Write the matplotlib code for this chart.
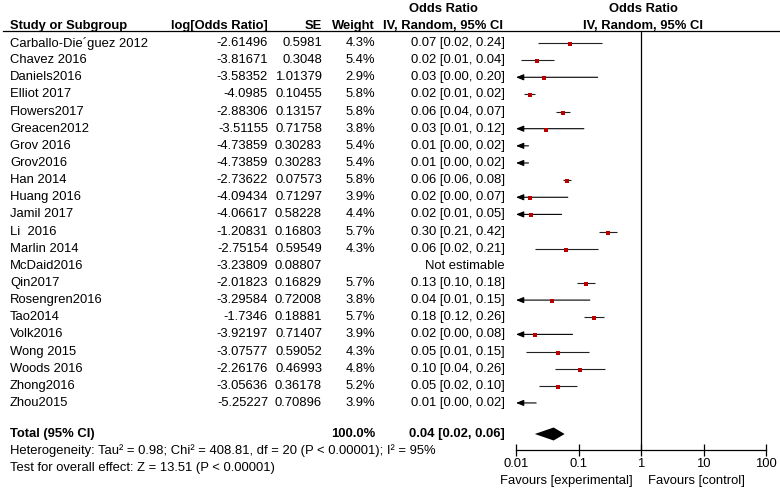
import numpy as np
import matplotlib
matplotlib.use("Agg")
import matplotlib.pyplot as plt

plt.rcParams["font.family"] = ["Liberation Sans", "DejaVu Sans"]
FS = 9.4

studies = ["Carballo-Die\u00b4guez 2012", "Chavez 2016", "Daniels2016", "Elliot 2017",
           "Flowers2017", "Greacen2012", "Grov 2016", "Grov2016", "Han 2014",
           "Huang 2016", "Jamil 2017", "Li  2016", "Marlin 2014", "McDaid2016",
           "Qin2017", "Rosengren2016", "Tao2014", "Volk2016", "Wong 2015",
           "Woods 2016", "Zhong2016", "Zhou2015"]
log_or = ["-2.61496", "-3.81671", "-3.58352", "-4.0985", "-2.88306", "-3.51155",
          "-4.73859", "-4.73859", "-2.73622", "-4.09434", "-4.06617", "-1.20831",
          "-2.75154", "-3.23809", "-2.01823", "-3.29584", "-1.7346", "-3.92197",
          "-3.07577", "-2.26176", "-3.05636", "-5.25227"]
se = ["0.5981", "0.3048", "1.01379", "0.10455", "0.13157", "0.71758", "0.30283",
      "0.30283", "0.07573", "0.71297", "0.58228", "0.16803", "0.59549", "0.08807",
      "0.16829", "0.72008", "0.18881", "0.71407", "0.59052", "0.46993", "0.36178",
      "0.70896"]
weight = [4.3, 5.4, 2.9, 5.8, 5.8, 3.8, 5.4, 5.4, 5.8, 3.9, 4.4, 5.7, 4.3, None,
          5.7, 3.8, 5.7, 3.9, 4.3, 4.8, 5.2, 3.9]
ci_text = ["0.07 [0.02, 0.24]", "0.02 [0.01, 0.04]", "0.03 [0.00, 0.20]",
           "0.02 [0.01, 0.02]", "0.06 [0.04, 0.07]", "0.03 [0.01, 0.12]",
           "0.01 [0.00, 0.02]", "0.01 [0.00, 0.02]", "0.06 [0.06, 0.08]",
           "0.02 [0.00, 0.07]", "0.02 [0.01, 0.05]", "0.30 [0.21, 0.42]",
           "0.06 [0.02, 0.21]", "Not estimable", "0.13 [0.10, 0.18]",
           "0.04 [0.01, 0.15]", "0.18 [0.12, 0.26]", "0.02 [0.00, 0.08]",
           "0.05 [0.01, 0.15]", "0.10 [0.04, 0.26]", "0.05 [0.02, 0.10]",
           "0.01 [0.00, 0.02]"]
total_or, total_lo, total_hi = 0.04, 0.02, 0.06
ticks = [0.01, 0.1, 1, 10, 100]
tick_labels = ["0.01", "0.1", "1", "10", "100"]

W, H = 780, 488
fig = plt.figure(figsize=(W / 100, H / 100), dpi=100)

# text layer in pixel coords
ax_t = fig.add_axes([0, 0, 1, 1])
ax_t.set_xlim(0, W)
ax_t.set_ylim(H, 0)
ax_t.axis("off")

# forest layer
top_y, axis_y = 31, 450
x0, x1 = 516, 766
ax_f = fig.add_axes([x0 / W, 1 - axis_y / H, (x1 - x0) / W, (axis_y - top_y) / H])
ax_f.set_xscale("log")
ax_f.set_xlim(0.01, 100)
ax_f.set_ylim(axis_y, top_y)
ax_f.patch.set_alpha(0)
for s in ["top", "right", "left"]:
    ax_f.spines[s].set_visible(False)
ax_f.spines["bottom"].set_linewidth(0.9)
ax_f.set_yticks([])
ax_f.set_xticks(ticks)
ax_f.set_xticklabels(tick_labels, fontsize=FS)
ax_f.minorticks_off()
ax_f.tick_params(axis="x", direction="inout", length=8, width=0.9, pad=2)
ax_f.axvline(1, color="black", lw=0.9)

row_y = 43 + 17.14 * np.arange(len(studies))
LC = "#222222"

# headers
hy1, hy2 = 9, 26
ax_t.text(10, hy2, "Study or Subgroup", fontsize=FS, weight="bold", va="center")
ax_t.text(268, hy2, "log[Odds Ratio]", fontsize=FS, weight="bold", va="center", ha="right")
ax_t.text(322, hy2, "SE", fontsize=FS, weight="bold", va="center", ha="right")
ax_t.text(375, hy2, "Weight", fontsize=FS, weight="bold", va="center", ha="right")
ax_t.text(443, hy1, "Odds Ratio", fontsize=FS, weight="bold", va="center", ha="center")
ax_t.text(443, hy2, "IV, Random, 95% CI", fontsize=FS, weight="bold", va="center", ha="center")
ax_t.text(643, hy1, "Odds Ratio", fontsize=FS, weight="bold", va="center", ha="center")
ax_t.text(643, hy2, "IV, Random, 95% CI", fontsize=FS, weight="bold", va="center", ha="center")
ax_t.plot([3, W], [top_y, top_y], color="black", lw=0.9)

for i, name in enumerate(studies):
    y = row_y[i]
    ax_t.text(10, y, name, fontsize=FS, va="center")
    ax_t.text(268, y, log_or[i], fontsize=FS, va="center", ha="right")
    ax_t.text(322, y, se[i], fontsize=FS, va="center", ha="right")
    ax_t.text(505, y, ci_text[i], fontsize=FS, va="center", ha="right")
    if weight[i] is None:
        continue
    ax_t.text(375, y, f"{weight[i]:.1f}%", fontsize=FS, va="center", ha="right")

    b, s_ = float(log_or[i]), float(se[i])
    est, lo, hi = np.exp(b), np.exp(b - 1.96 * s_), np.exp(b + 1.96 * s_)
    if lo < 0.01:
        ax_f.annotate("", xy=(0.01, y), xytext=(hi, y),
                      arrowprops=dict(arrowstyle="-|>,head_length=0.45,head_width=0.18",
                                      color="black", lw=0.8, shrinkA=0, shrinkB=0))
    else:
        ax_f.plot([lo, hi], [y, y], color=LC, lw=0.8, solid_capstyle="butt")
    if est >= 0.01:
        ax_f.plot(est, y + 1, marker="s", ms=2.2 + 0.08 * weight[i],
                  color="#b80000", mew=0, zorder=4)

# total
ty = 434
ax_t.text(10, ty, "Total (95% CI)", fontsize=FS, weight="bold", va="center")
ax_t.text(375, ty, "100.0%", fontsize=FS, weight="bold", va="center", ha="right")
ax_t.text(505, ty, f"{total_or:.2f} [{total_lo:.2f}, {total_hi:.2f}]",
          fontsize=FS, weight="bold", va="center", ha="right")
ax_f.fill([total_lo, total_or, total_hi, total_or], [ty, ty - 6.5, ty, ty + 6.5],
          color="black", lw=0, clip_on=False)

ax_t.text(10, 451, "Heterogeneity: Tau\u00b2 = 0.98; Chi\u00b2 = 408.81, df = 20 (P < 0.00001); I\u00b2 = 95%",
          fontsize=FS, va="center")
ax_t.text(10, 468, "Test for overall effect: Z = 13.51 (P < 0.00001)", fontsize=FS, va="center")

ax_t.text(633, 481, "Favours [experimental]", fontsize=FS, va="center", ha="right")
ax_t.text(648, 481, "Favours [control]", fontsize=FS, va="center", ha="left")

fig.savefig("out.png", dpi=100)
